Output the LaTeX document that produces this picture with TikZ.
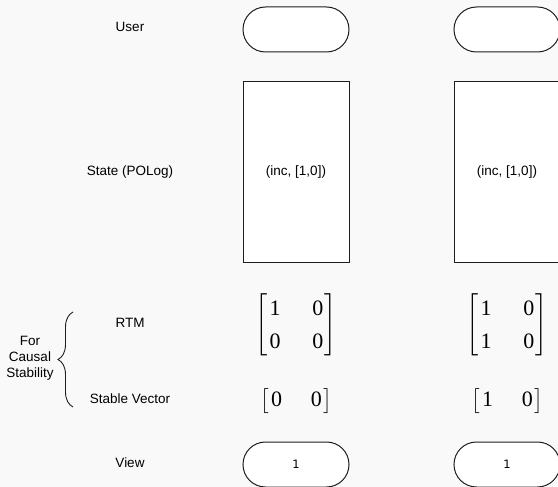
\documentclass[tikz,border=0pt]{standalone}
\usepackage{amsmath}
\usepackage{fontspec}
\setmainfont{Liberation Sans}
\newfontfamily\numfont{Liberation Serif}
\newfontfamily\viewfont{DejaVu Sans}
\usepackage{tikz}
\usetikzlibrary{positioning,decorations.pathreplacing}

\definecolor{bgcol}{RGB}{249,249,249}
\definecolor{edgecol}{RGB}{30,30,30}

% 2x2 matrix and row vector, digits in a serif face
\newcommand{\rtmat}[4]{{\fontsize{22}{26.4}\selectfont
  \renewcommand{\arraystretch}{1.25}\setlength{\arraycolsep}{16pt}%
  $\left[\begin{array}{@{\hspace{2pt}}cc@{\hspace{1pt}}}
  \text{\numfont #1} & \text{\numfont #2}\\
  \text{\numfont #3} & \text{\numfont #4}
  \end{array}\right]$}}
\newcommand{\stvec}[2]{{\fontsize{22}{26.4}\selectfont
  \setlength{\arraycolsep}{14.5pt}%
  $\left[\begin{array}{@{\hspace{2pt}}cc@{\hspace{1pt}}}
  \text{\numfont #1} & \text{\numfont #2}
  \end{array}\right]$}}

\tikzset{
  lbl/.style={font=\fontsize{13.5}{16}\selectfont},
  term/.style={draw=edgecol,line width=1pt,fill=white,minimum width=106pt,
    minimum height=45pt,rounded corners=22.5pt,inner sep=0pt,
    font=\viewfont\fontsize{11.5}{14}\selectfont},
  statebox/.style={draw=edgecol,line width=1pt,fill=white,minimum width=106pt,
    minimum height=180pt,inner sep=0pt,font=\fontsize{13.5}{16}\selectfont}
}

\begin{document}
\begin{tikzpicture}[x=1pt,y=-1pt]
% Background
\clip (0,0) rectangle (558,487);
\fill[bgcol] (0,0) rectangle (558,487);
% Row labels
\node[lbl] (userlbl) at (130,27) {User};
\node[lbl] (statelbl) at (130,172) {State (POLog)};
\node[lbl] (rtmlbl) at (130,323) {RTM};
\node[lbl] (stlbl) at (130,399) {Stable Vector};
\node[lbl] (viewlbl) at (130,463) {View};
\node[lbl,align=center] (causal) at (30,358) {For\\Causal\\Stability};
% Brace
\coordinate (bracetop) at (73,312);
\coordinate (bracebot) at (73,407);
\draw[edgecol,line width=0.9pt,decorate,decoration={brace,amplitude=15pt}]
  (bracebot) -- (bracetop);
% First replica
\node[term] (user1) at (296,29.5) {};
\node[statebox] (state1) at (296,172) {(inc, [1,0])};
\node (rtm1) at (296,325) {\rtmat{1}{0}{0}{0}};
\node (stv1) at (296,401) {\stvec{0}{0}};
\node[term] (view1) at (296,464.5) {1};
% Second replica
\node[term] (user2) at (507,29.5) {};
\node[statebox] (state2) at (507,172) {(inc, [1,0])};
\node (rtm2) at (507,325) {\rtmat{1}{0}{1}{0}};
\node (stv2) at (507,401) {\stvec{1}{0}};
\node[term] (view2) at (507,464.5) {1};
\end{tikzpicture}
\end{document}
